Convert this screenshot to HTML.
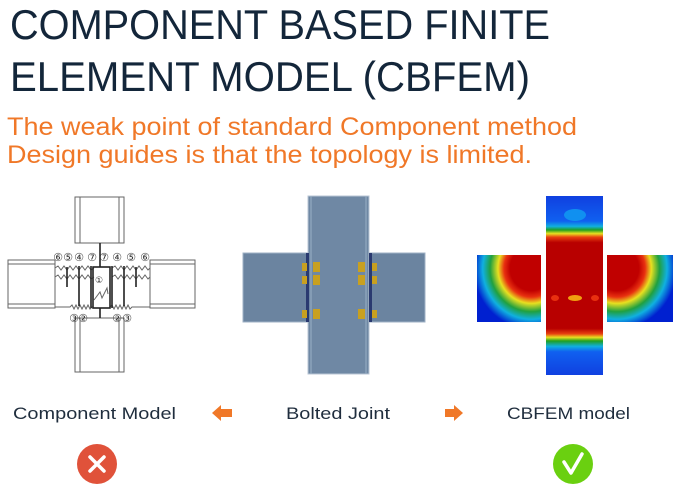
<!DOCTYPE html>
<html><head><meta charset="utf-8"><style>
html,body{margin:0;padding:0;background:#fff;width:700px;height:500px;overflow:hidden}
svg{display:block}
</style></head><body>
<svg width="700" height="500" viewBox="0 0 700 500" xmlns="http://www.w3.org/2000/svg">
<defs>
<linearGradient id="col" x1="0" y1="0" x2="0" y2="1">
<stop offset="0" stop-color="#1040e0"/><stop offset="0.14" stop-color="#1060f0"/>
<stop offset="0.17" stop-color="#10b0e0"/><stop offset="0.19" stop-color="#20a020"/>
<stop offset="0.21" stop-color="#e8e020"/><stop offset="0.23" stop-color="#e84010"/>
<stop offset="0.26" stop-color="#b80000"/><stop offset="0.74" stop-color="#b80000"/>
<stop offset="0.77" stop-color="#e84010"/><stop offset="0.79" stop-color="#e8e020"/>
<stop offset="0.81" stop-color="#20a020"/><stop offset="0.84" stop-color="#10b0e0"/>
<stop offset="0.87" stop-color="#1060f0"/><stop offset="1" stop-color="#1040e0"/>
</linearGradient>
<radialGradient id="bl" cx="0.85" cy="0.2" r="0.95">
<stop offset="0" stop-color="#c00000"/><stop offset="0.35" stop-color="#c00000"/>
<stop offset="0.45" stop-color="#e83010"/><stop offset="0.55" stop-color="#e8e020"/>
<stop offset="0.68" stop-color="#20a040"/><stop offset="0.8" stop-color="#10b0e0"/>
<stop offset="0.95" stop-color="#0020d0"/>
</radialGradient>
<radialGradient id="br" cx="0.15" cy="0.2" r="0.95">
<stop offset="0" stop-color="#c00000"/><stop offset="0.35" stop-color="#c00000"/>
<stop offset="0.45" stop-color="#e83010"/><stop offset="0.55" stop-color="#e8e020"/>
<stop offset="0.68" stop-color="#20a040"/><stop offset="0.8" stop-color="#10b0e0"/>
<stop offset="0.95" stop-color="#0020d0"/>
</radialGradient>
</defs>
<g font-family="Liberation Sans, sans-serif">
<text x="10" y="39" font-size="42" fill="#13263a" textLength="540" lengthAdjust="spacingAndGlyphs">COMPONENT BASED FINITE</text>
<text x="10" y="91" font-size="42" fill="#13263a" textLength="520" lengthAdjust="spacingAndGlyphs">ELEMENT MODEL (CBFEM)</text>
<text x="7" y="135" font-size="25" fill="#f07828" textLength="570" lengthAdjust="spacingAndGlyphs">The weak point of standard Component method</text>
<text x="7" y="163" font-size="25" fill="#f07828" textLength="525" lengthAdjust="spacingAndGlyphs">Design guides is that the topology is limited.</text>
<text x="13" y="419" font-size="17" fill="#1f2d3d" textLength="163" lengthAdjust="spacingAndGlyphs">Component Model</text>
<text x="286" y="419" font-size="17" fill="#1f2d3d" textLength="104" lengthAdjust="spacingAndGlyphs">Bolted Joint</text>
<text x="507" y="419" font-size="17" fill="#1f2d3d" textLength="123" lengthAdjust="spacingAndGlyphs">CBFEM model</text>
</g>
<polygon points="212,413 221,405 221,409 232,409 232,417 221,417 221,421" fill="#f07828"/>
<polygon points="463,413 454,405 454,409 445,409 445,417 454,417 454,421" fill="#f07828"/>
<circle cx="97" cy="464" r="20" fill="#e0523a"/>
<path d="M90 457 L104 471 M104 457 L90 471" stroke="#fff" stroke-width="3.5" stroke-linecap="round"/>
<circle cx="573" cy="464" r="20" fill="#6ad010"/>
<path d="M564 462 L571 473 L582 454" stroke="#fff" stroke-width="3.5" fill="none" stroke-linecap="round" stroke-linejoin="round"/>
<g stroke="#666" stroke-width="1" fill="#fff">
<rect x="75" y="197" width="49" height="46"/><line x1="80" y1="197" x2="80" y2="243"/><line x1="119" y1="197" x2="119" y2="243"/>
<rect x="75" y="318" width="49" height="54"/><line x1="80" y1="318" x2="80" y2="372"/><line x1="119" y1="318" x2="119" y2="372"/>
<rect x="8" y="260" width="47" height="48"/><line x1="8" y1="264" x2="55" y2="264"/><line x1="8" y1="304" x2="55" y2="304"/>
<rect x="150" y="260" width="45" height="48"/><line x1="150" y1="264" x2="195" y2="264"/><line x1="150" y1="304" x2="195" y2="304"/>
<path d="M55 268 l3 -2 l3 4 l3 -4 l3 4 l3 -4 l3 4 l3 -4 l3 4 l3 -4 l3 4 l3 -4 l3 4 l3 -2 M112 268 l3 -2 l3 4 l3 -4 l3 4 l3 -4 l3 4 l3 -4 l3 4 l3 -4 l3 4 l3 -4 l3 4 l2 -2" fill="none"/>
<path d="M55 277 l3 -2 l3 4 l3 -4 l3 4 l3 -4 l3 4 l3 -4 l3 4 l3 -4 l3 4 l3 -4 l3 4 l3 -2 M112 277 l3 -2 l3 4 l3 -4 l3 4 l3 -4 l3 4 l3 -4 l3 4 l3 -4 l3 4 l3 -4 l3 4 l2 -2" fill="none"/>
<path d="M55 307 L70 307 l2 -2 l2 4 l2 -4 l2 4 l2 -4 l2 4 l2 -4 l2 4 l2 -4 l2 4 l2 -2 L93 307 M110 307 l2 -2 l2 4 l2 -4 l2 4 l2 -4 l2 4 l2 -4 l2 4 l2 -4 l2 4 l2 -2 L150 307" fill="none"/>
<path d="M94 300 l6 -8 l2 6 l5 -10 l1 6" fill="none"/>
</g>
<g stroke="#222" stroke-width="1.6">
<line x1="100" y1="243" x2="100" y2="267"/><line x1="100" y1="308" x2="100" y2="318"/>
<rect x="93" y="267" width="17" height="41" fill="none"/>
<line x1="67" y1="267" x2="67" y2="287"/><line x1="79" y1="266" x2="79" y2="306"/>
<line x1="91" y1="266" x2="91" y2="308"/><line x1="112" y1="266" x2="112" y2="308"/>
<line x1="124" y1="266" x2="124" y2="306"/><line x1="136" y1="267" x2="136" y2="287"/>
</g>
<g font-family="DejaVu Sans, sans-serif" font-size="11" fill="#333" text-anchor="middle">
<text x="58" y="261">⑥</text><text x="68" y="261">⑤</text><text x="79" y="261">④</text><text x="92" y="261">⑦</text><text x="104" y="261">⑦</text><text x="117" y="261">④</text><text x="131" y="261">⑤</text><text x="145" y="261">⑥</text>
<text x="74" y="322">③</text><text x="83" y="322">②</text><text x="117" y="322">②</text><text x="127" y="322">③</text>
<text x="99" y="283" font-size="9">①</text>
</g>
<rect x="243" y="253" width="65" height="69" fill="#6b84a0" stroke="#9fb2c6"/>
<rect x="370" y="253" width="55" height="69" fill="#6b84a0" stroke="#9fb2c6"/>
<rect x="308" y="196" width="61" height="178" fill="#6f88a4" stroke="#b8c6d4"/>
<line x1="311" y1="196" x2="311" y2="374" stroke="#9ab0c6"/><line x1="366" y1="196" x2="366" y2="374" stroke="#9ab0c6"/>
<rect x="306" y="253" width="3" height="69" fill="#2a3a70"/><rect x="369" y="253" width="3" height="69" fill="#2a3a70"/>
<g fill="#c8a020">
<rect x="302" y="263" width="5" height="8"/><rect x="313" y="262" width="7" height="10"/>
<rect x="302" y="276" width="5" height="8"/><rect x="313" y="275" width="7" height="10"/>
<rect x="302" y="310" width="5" height="8"/><rect x="313" y="309" width="7" height="10"/>
<rect x="372" y="263" width="5" height="8"/><rect x="358" y="262" width="7" height="10"/>
<rect x="372" y="276" width="5" height="8"/><rect x="358" y="275" width="7" height="10"/>
<rect x="372" y="310" width="5" height="8"/><rect x="358" y="309" width="7" height="10"/>
</g>
<rect x="477" y="255" width="64" height="67" fill="url(#bl)"/>
<rect x="607" y="255" width="66" height="67" fill="url(#br)"/>
<rect x="546" y="196" width="57" height="179" fill="url(#col)"/>
<ellipse cx="575" cy="215" rx="11" ry="6" fill="#1090f0"/>
<ellipse cx="575" cy="298" rx="7" ry="3" fill="#f0a010"/>
<ellipse cx="555" cy="298" rx="4" ry="3" fill="#e83010"/><ellipse cx="595" cy="298" rx="4" ry="3" fill="#e83010"/>
</svg>
</body></html>
